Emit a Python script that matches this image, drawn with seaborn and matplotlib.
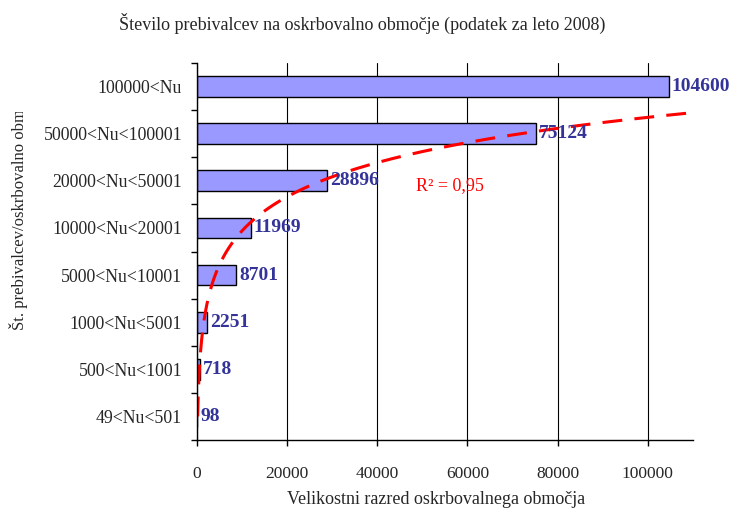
import numpy as np
import pandas as pd
import matplotlib
matplotlib.use("Agg")
import matplotlib.pyplot as plt
import seaborn as sns
from matplotlib.transforms import Bbox, TransformedBbox

# Data (top to bottom)
categories = [
    "100000<Nu",
    "50000<Nu<100001",
    "20000<Nu<50001",
    "10000<Nu<20001",
    "5000<Nu<10001",
    "1000<Nu<5001",
    "500<Nu<1001",
    "49<Nu<501",
]
prebivalci = [104600, 75124, 28896, 11969, 8701, 2251, 718, 98]
x_ticks = [0, 20000, 40000, 60000, 80000, 100000]

df = pd.DataFrame({"razred": categories, "st": prebivalci})

sns.set_style("white")
plt.rcParams["font.family"] = ["Liberation Serif", "DejaVu Serif"]

W, H = 733, 515
fig = plt.figure(figsize=(W / 100, H / 100), dpi=100)
ax = fig.add_axes([196.6 / W, 1 - 440 / H, (693 - 196.6) / W, (440 - 63) / H])

sns.barplot(
    data=df, x="st", y="razred", orient="h", color="#9999FF", saturation=1,
    edgecolor="black", linewidth=1, width=0.44, ax=ax,
)

# value labels next to bars
for i, v in enumerate(prebivalci):
    ax.text(v + 700, i, str(v), ha="left", va="center", color="#333399",
            fontsize=14, fontweight="bold")

# exponential trendline (Excel style: category index 1 at bottom)
n = len(prebivalci)
idx = np.arange(1, n + 1)
vals = np.array(prebivalci[::-1], dtype=float)
b, lna = np.polyfit(idx, np.log(vals), 1)
r2 = np.corrcoef(idx, np.log(vals))[0, 1] ** 2
ii = np.linspace(1, n, 400)
ax.plot(np.exp(lna + b * ii), n - ii, color="red", lw=2.2,
        linestyle=(0, (6.5, 4)), clip_on=True)
ax.text(48600, 2.1, f"R² = {r2:.2f}".replace(".", ","), color="red",
        fontsize=13, ha="left", va="center")

ax.set_xlim(0, 110000)
ax.set_ylim(7.5, -0.5)
ax.set_xticks(x_ticks)
ax.set_xticklabels([str(t) for t in x_ticks], fontsize=12.5)
ax.set_yticks(range(n))
ax.set_yticklabels(categories, fontsize=12.8)
ax.set_yticks(np.arange(-0.5, n, 1), minor=True)
ax.tick_params(axis="y", which="major", length=0, pad=10.5)
ax.tick_params(axis="y", which="minor", length=4.3, width=1, color="black",
               direction="out", left=True)
ax.tick_params(axis="x", length=4.3, width=1, color="black", direction="out",
               pad=14.5, bottom=True)
ax.xaxis.grid(True, color="black", lw=0.8)
ax.yaxis.grid(False)
for s in ["top", "right"]:
    ax.spines[s].set_visible(False)
for s in ["left", "bottom"]:
    ax.spines[s].set_color("black")
    ax.spines[s].set_linewidth(1)
ax.set_xlabel("")
ax.set_ylabel("")

fig.text(362 / W, 1 - 23 / H,
         "Število prebivalcev na oskrbovalno območje (podatek za leto 2008)",
         ha="center", va="center", fontsize=13)
fig.text(436 / W, 1 - 500 / H, "Velikostni razred oskrbovalnega območja",
         ha="center", va="center", fontsize=13)
yl = fig.text(19 / W, 1 - 330 / H, "Št. prebivalcev/oskrbovalno območja",
              rotation=90, ha="center", va="bottom", fontsize=12)
yl.set_clip_box(TransformedBbox(Bbox([[0, 0], [1, 1 - 112 / H]]), fig.transFigure))
yl.set_clip_on(True)

fig.savefig("out.png", dpi=100)
